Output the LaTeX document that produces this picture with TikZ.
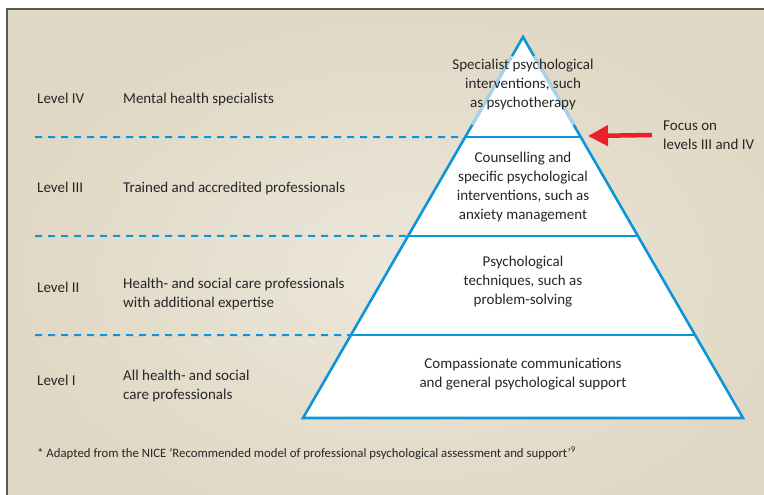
\documentclass[tikz,border=0pt]{standalone}
\usepackage{fontspec}
\setmainfont{Carlito}
\usetikzlibrary{calc,arrows.meta}
\definecolor{pyblue}{HTML}{0A96D8}
\definecolor{pylight}{HTML}{A8D4F0}
\definecolor{bgbeige}{HTML}{E0D8C4}
\definecolor{bglight}{HTML}{ECE7DB}
\definecolor{framegray}{HTML}{5A5A5A}
\definecolor{txtgray}{HTML}{262626}
\definecolor{arrred}{HTML}{E8202A}
\tikzset{
  level/.style={anchor=base west, font=\fontsize{15}{19}\selectfont, text=txtgray, inner sep=0pt},
  leveltwo/.style={anchor=west, align=left, font=\fontsize{15}{19}\selectfont, text=txtgray, inner sep=0pt},
  tier/.style={align=center, font=\fontsize{15}{19}\selectfont, text=txtgray, inner sep=0pt},
  boundary/.style={pyblue, line width=2pt, dash pattern=on 7pt off 6pt},
}
\begin{document}
\begin{tikzpicture}[x=1pt,y=-1pt]
      \useasboundingbox (0,0) rectangle (764,495);
      \fill[white] (0,0) rectangle (764,495);
      \begin{scope}
        \clip (0,0) rectangle (764,495);
        \shade[inner color=bglight, outer color=bgbeige] (7,9) rectangle (800,540);
        \draw[framegray, line width=1.6pt] (7,540) -- (7,9) -- (800,9);
      \end{scope}
      % pyramid corners and cuts
      \coordinate (apex) at (523,37);
      \coordinate (bl) at (303,418);
      \coordinate (br) at (743,418);
      \coordinate (l4) at ($(apex)!0.2625!(bl)$);
      \coordinate (r4) at ($(apex)!0.2625!(br)$);
      \coordinate (l3) at ($(apex)!0.5223!(bl)$);
      \coordinate (r3) at ($(apex)!0.5223!(br)$);
      \coordinate (l2) at ($(apex)!0.7822!(bl)$);
      \coordinate (r2) at ($(apex)!0.7822!(br)$);
      \coordinate (d4) at (35,137);
      \coordinate (d3) at (35,236);
      \coordinate (d2) at (35,335);
      \coordinate (tip) at (588,136);
      \filldraw[fill=white, draw=pyblue, line width=2.6pt, line join=miter]
        (apex) -- (br) -- (bl) -- cycle;
      \begin{scope}[pylight, line width=2.6pt]
        \draw ($(apex)!0.05!(bl)$) -- ($(apex)!0.23!(bl)$);
        \draw ($(apex)!0.05!(br)$) -- ($(apex)!0.23!(br)$);
      \end{scope}
      \begin{scope}[pyblue, line width=2pt]
        \draw (l4) -- (r4);
        \draw (l3) -- (r3);
        \draw (l2) -- (r2);
      \end{scope}
      \begin{scope}[boundary]
        \draw (d4) -- (l4);
        \draw (d3) -- (l3);
        \draw (d2) -- (l2);
      \end{scope}
      % levels on the left
      \node[level] (lv4) at (37,104) {Level IV};
      \node[level] (lv3) at (37,193) {Level III};
      \node[level] (lv2) at (37,292) {Level II};
      \node[level] (lv1) at (37,385) {Level I};
      \node[level] (who4) at (123,104) {Mental health specialists};
      \node[level] (who3) at (123,193) {Trained and accredited professionals};
      \node[leveltwo] (who2) at (123,294) {Health- and social care professionals\\with additional expertise};
      \node[leveltwo] (who1) at (123,386) {All health- and social\\care professionals};
      % tiers of the pyramid
      \node[tier] (t4) at (523,85) {Specialist psychological\\interventions, such\\as psychotherapy};
      \node[tier] (t3) at (523,187) {Counselling and\\specific psychological\\interventions, such as\\anxiety management};
      \node[tier] (t2) at (523,282) {Psychological\\techniques, such as\\problem-solving};
      \node[tier] (t1) at (523,374) {Compassionate communications\\and general psychological support};
      % focus arrow
      \node[leveltwo] (focus) at (663,135) {Focus on\\levels III and IV};
      \draw[arrred, line width=4.5pt, -{Triangle[length=20pt,width=20pt]}]
        ([xshift=-11pt]focus.west) -- (tip);
      \node[level, font=\fontsize{12.8}{16}\selectfont] (note) at (37,457)
        {* Adapted from the NICE ‘Recommended model of professional psychological assessment and support’\textsuperscript{9}};
    \end{tikzpicture}
\end{document}
